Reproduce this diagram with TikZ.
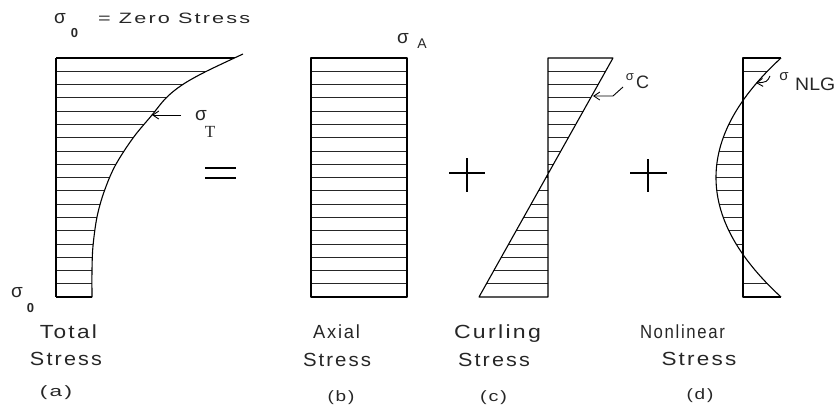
\documentclass[tikz,border=0pt]{standalone}
\usepackage{fontspec}
\setmainfont{Liberation Sans}
\newfontfamily\lbl[LetterSpace=10]{Liberation Sans}
\newfontfamily\serifT{Liberation Serif}
\usetikzlibrary{arrows.meta}
\newcommand\fitw[2]{\resizebox{#1pt}{\height}{#2}}
\begin{document}
\begin{tikzpicture}[x=1pt,y=-1pt,
  frame/.style={line width=1.1pt,line join=round},
  hatch/.style={line width=0.7pt,draw=black!85},
  sign/.style={line width=1.4pt},
  lead/.style={line width=0.9pt,-{Straight Barb[length=6pt,width=8pt]}},
  lab/.style={inner sep=0pt,anchor=base,text=black!85},
  big/.style={lab,font=\lbl\fontsize{19}{19}\selectfont},
  par/.style={lab,font=\lbl\fontsize{15}{15}\selectfont},
  subz/.style={lab,font=\bfseries\fontsize{13}{13}\selectfont}]
\useasboundingbox (0,0) rectangle (836,410);

% ---------- panel (a) ----------
\begin{scope}
\clip (0,0) -- (243,0) -- plot[smooth,tension=0.55] coordinates {(243,54) (205,72) (182,85) (166,98) (152,115) (133,138) (115,166) (104,192) (97,217) (93,246) (92,270) (92,297)} -- (92,400) -- (0,400) -- cycle;
\foreach \k [evaluate=\k as \yy using 58+\k*13.28] in {1,...,17}
  \draw[hatch] (56,\yy) -- (300,\yy);
\draw[frame] (56,58) -- (300,58);
\draw[frame] (56,297) -- (300,297);
\end{scope}
\draw[frame] (56,58) -- (56,297);
\draw[frame] plot[smooth,tension=0.55] coordinates {(243,54) (205,72) (182,85) (166,98) (152,115) (133,138) (115,166) (104,192) (97,217) (93,246) (92,270) (92,297)};
\coordinate (tTail) at (181,115);
\coordinate (tTip) at (152,115);
\draw[lead] (tTail) -- (tTip);

% equals sign
\coordinate (e1) at (205,168); \coordinate (e2) at (236,168);
\coordinate (e3) at (205,178); \coordinate (e4) at (236,178);
\draw[sign] (e1) -- (e2);
\draw[sign] (e3) -- (e4);

% ---------- panel (b) ----------
\foreach \k [evaluate=\k as \yy using 58+\k*13.28] in {1,...,17}
  \draw[hatch] (311,\yy) -- (407,\yy);
\draw[frame] (311,58) rectangle (407,297);

% plus 1
\coordinate (p1l) at (449,173); \coordinate (p1r) at (485,173);
\coordinate (p1t) at (467,158); \coordinate (p1b) at (467,192);
\draw[sign] (p1l) -- (p1r);
\draw[sign] (p1t) -- (p1b);

% ---------- panel (c) ----------
\begin{scope}
\clip (548,58) -- (613,58) -- (479,297) -- (548,297) -- cycle;
\foreach \k [evaluate=\k as \yy using 58+\k*13.28] in {1,...,17}
  \draw[hatch] (470,\yy) -- (620,\yy);
\end{scope}
\draw[frame] (548,58) -- (613,58) -- (479,297) -- (548,297) -- cycle;
\coordinate (cA) at (623,87);
\coordinate (cB) at (613,96);
\coordinate (cTip) at (593,96);
\draw[lead] (cA) -- (cB) -- (cTip);

% plus 2
\coordinate (p2l) at (630,173); \coordinate (p2r) at (667,173);
\coordinate (p2t) at (648,159); \coordinate (p2b) at (648,192);
\draw[sign] (p2l) -- (p2r);
\draw[sign] (p2t) -- (p2b);

% ---------- panel (d) ----------
\begin{scope}
\clip (743,58) -- plot[domain=58:297,samples=80,variable=\t] ({716+65*((\t-177.5)/119.5)^2},\t) -- (743,297) -- cycle;
\foreach \k [evaluate=\k as \yy using 58+\k*13.28] in {1,5,6,7,8,9,10,11,12,13,14,17}
  \draw[hatch] (700,\yy) -- (790,\yy);
\end{scope}
\draw[frame] (781,58) -- (743,58) -- (743,297) -- (781,297);
\draw[frame] plot[domain=58:297,samples=80,variable=\t] ({716+65*((\t-177.5)/119.5)^2},\t);
\coordinate (nA) at (770,76);
\coordinate (nTip) at (756,83);
\draw[lead] (nA) .. controls (767,82) .. (nTip);

% ---------- texts ----------
\node[lab,font=\fontsize{19}{19}\selectfont] (s0top) at (60,23) {σ};
\node[subz] (s0topsub) at (74.5,37) {0};
\node[lab,anchor=base west,font=\lbl\fontsize{15}{15}\selectfont] (zero) at (98,23) {\fitw{152}{= Zero Stress}};

\node[lab,font=\fontsize{19}{19}\selectfont] (sT) at (201,120) {σ};
\node[lab,font=\serifT\fontsize{17}{17}\selectfont] (sTsub) at (210,137) {T};

\node[lab,font=\fontsize{19}{19}\selectfont] (sA) at (403,43) {σ};
\node[lab,font=\fontsize{14}{14}\selectfont] (sAsub) at (422,48) {A};

\node[lab,font=\fontsize{13}{13}\selectfont] (sC) at (630,80) {σ};
\node[lab,font=\fontsize{18}{18}\selectfont] (sCsub) at (642.5,88) {C};

\node[lab,font=\fontsize{15}{15}\selectfont] (sN) at (784,80) {σ};
\node[lab,anchor=base west,font=\fontsize{18}{18}\selectfont] (sNsub) at (795,90) {\fitw{40}{NLG}};

\node[lab,font=\fontsize{19}{19}\selectfont] (s0bot) at (17,297) {σ};
\node[subz] (s0botsub) at (30.5,312) {0};

\node[big] (tot1) at (68.5,338) {\fitw{57}{Total}};
\node[big] (tot2) at (66,365) {\fitw{72}{Stress}};
\node[par] (tot3) at (56,396) {\fitw{32}{(a)}};

\node[big] (ax1) at (336.5,338) {\fitw{47}{Axial}};
\node[big] (ax2) at (337,366) {\fitw{68}{Stress}};
\node[par] (ax3) at (341,401) {\fitw{27}{(b)}};

\node[big] (cu1) at (497.5,338) {\fitw{87}{Curling}};
\node[big] (cu2) at (494,366) {\fitw{72}{Stress}};
\node[par] (cu3) at (493.5,401) {\fitw{27}{(c)}};

\node[big] (nl1) at (682.5,338) {\fitw{85}{Nonlinear}};
\node[big] (nl2) at (699,365) {\fitw{75}{Stress}};
\node[par] (nl3) at (700,399) {\fitw{27}{(d)}};
\end{tikzpicture}
\end{document}
